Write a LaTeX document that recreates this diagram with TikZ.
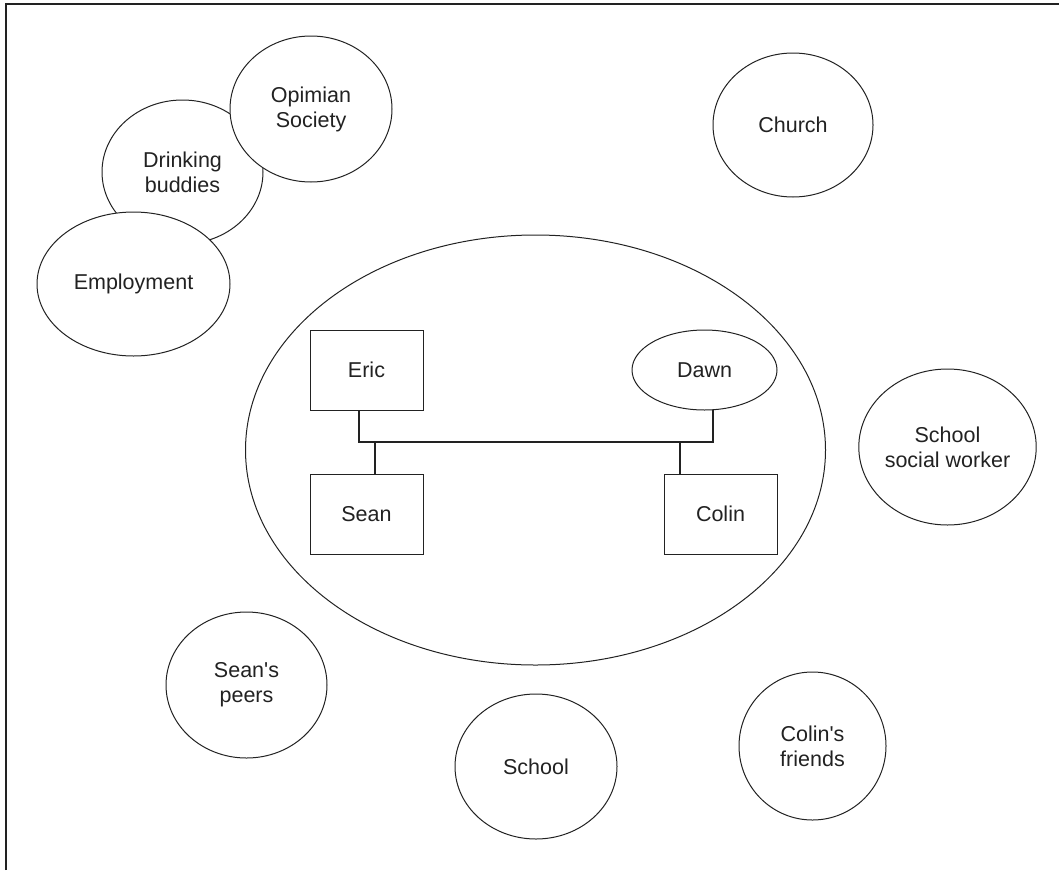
\documentclass[tikz,border=0pt]{standalone}
\usepackage{fontspec}
% TeXOff keeps the straight apostrophe as typed
\setmainfont{Liberation Sans}[Ligatures=TeXOff]
\usetikzlibrary{shapes.geometric,calc}
\definecolor{ink}{HTML}{222222}
\begin{document}
\begin{tikzpicture}[x=1pt,y=-1pt,
  line width=1pt,
  bubble/.style={ellipse,draw=ink,fill=white,inner sep=0pt,outer sep=0pt,
    align=center,text=ink,font=\fontsize{21.5}{25}\selectfont},
  person/.style={rectangle,draw=ink,fill=white,inner sep=0pt,outer sep=0pt,
    minimum width=113pt,minimum height=80pt,text=ink,font=\fontsize{21.5}{25}\selectfont},
  link/.style={draw=ink,line width=1.1pt}]
\useasboundingbox (0,0) rectangle (1059,870);

% frame
\draw[ink,line width=2pt] (6,870) -- (6,4) -- (1059,4);

% top-left cluster (later bubbles cover earlier ones)
\node[bubble,minimum width=161pt,minimum height=144pt] (drink) at (182.5,172) {Drinking\\buddies};
\node[bubble,minimum width=162pt,minimum height=146pt] (opimian) at (311,109) {Opimian\\Society};
\node[bubble,minimum width=193pt,minimum height=144pt] (employ) at (133.5,284) {Employment};

% outer bubbles
\node[bubble,minimum width=160pt,minimum height=144pt] (church) at (793,125) {Church};
\node[bubble,minimum width=161pt,minimum height=156pt] (ssw) at (947.5,447) {School\\social worker};
\node[bubble,minimum width=161pt,minimum height=146pt] (peers) at (246.5,685) {Sean's\\peers};
\node[bubble,minimum width=162pt,minimum height=145pt] (school) at (536,766.5) {School};
\node[bubble,minimum width=147pt,minimum height=148pt] (friends) at (812.5,746) {Colin's\\friends};

% household
\node[ellipse,draw=ink,inner sep=0pt,minimum width=580pt,minimum height=430pt] (home) at (535.5,450) {};
\node[person] (Eric) at (366.5,370) {Eric};
\node[bubble,minimum width=145pt,minimum height=80pt] (Dawn) at (704.5,370) {Dawn};
\node[person] (Sean) at (366.5,514) {Sean};
\node[person] (Colin) at (720.5,514) {Colin};

% family lines
\coordinate (bar) at (0,442);
\coordinate (ericfoot) at ([xshift=-7.5pt]Eric.south);
\coordinate (dawnfoot) at ([xshift=8.5pt]Dawn.south);
\coordinate (seanhead) at ([xshift=8.5pt]Sean.north);
\coordinate (colinhead) at ([xshift=-40.5pt]Colin.north);
\draw[link] (ericfoot) |- (dawnfoot |- bar) -- (dawnfoot);
\draw[link] (seanhead) -- (seanhead |- bar);
\draw[link] (colinhead) -- (colinhead |- bar);
\end{tikzpicture}
\end{document}
